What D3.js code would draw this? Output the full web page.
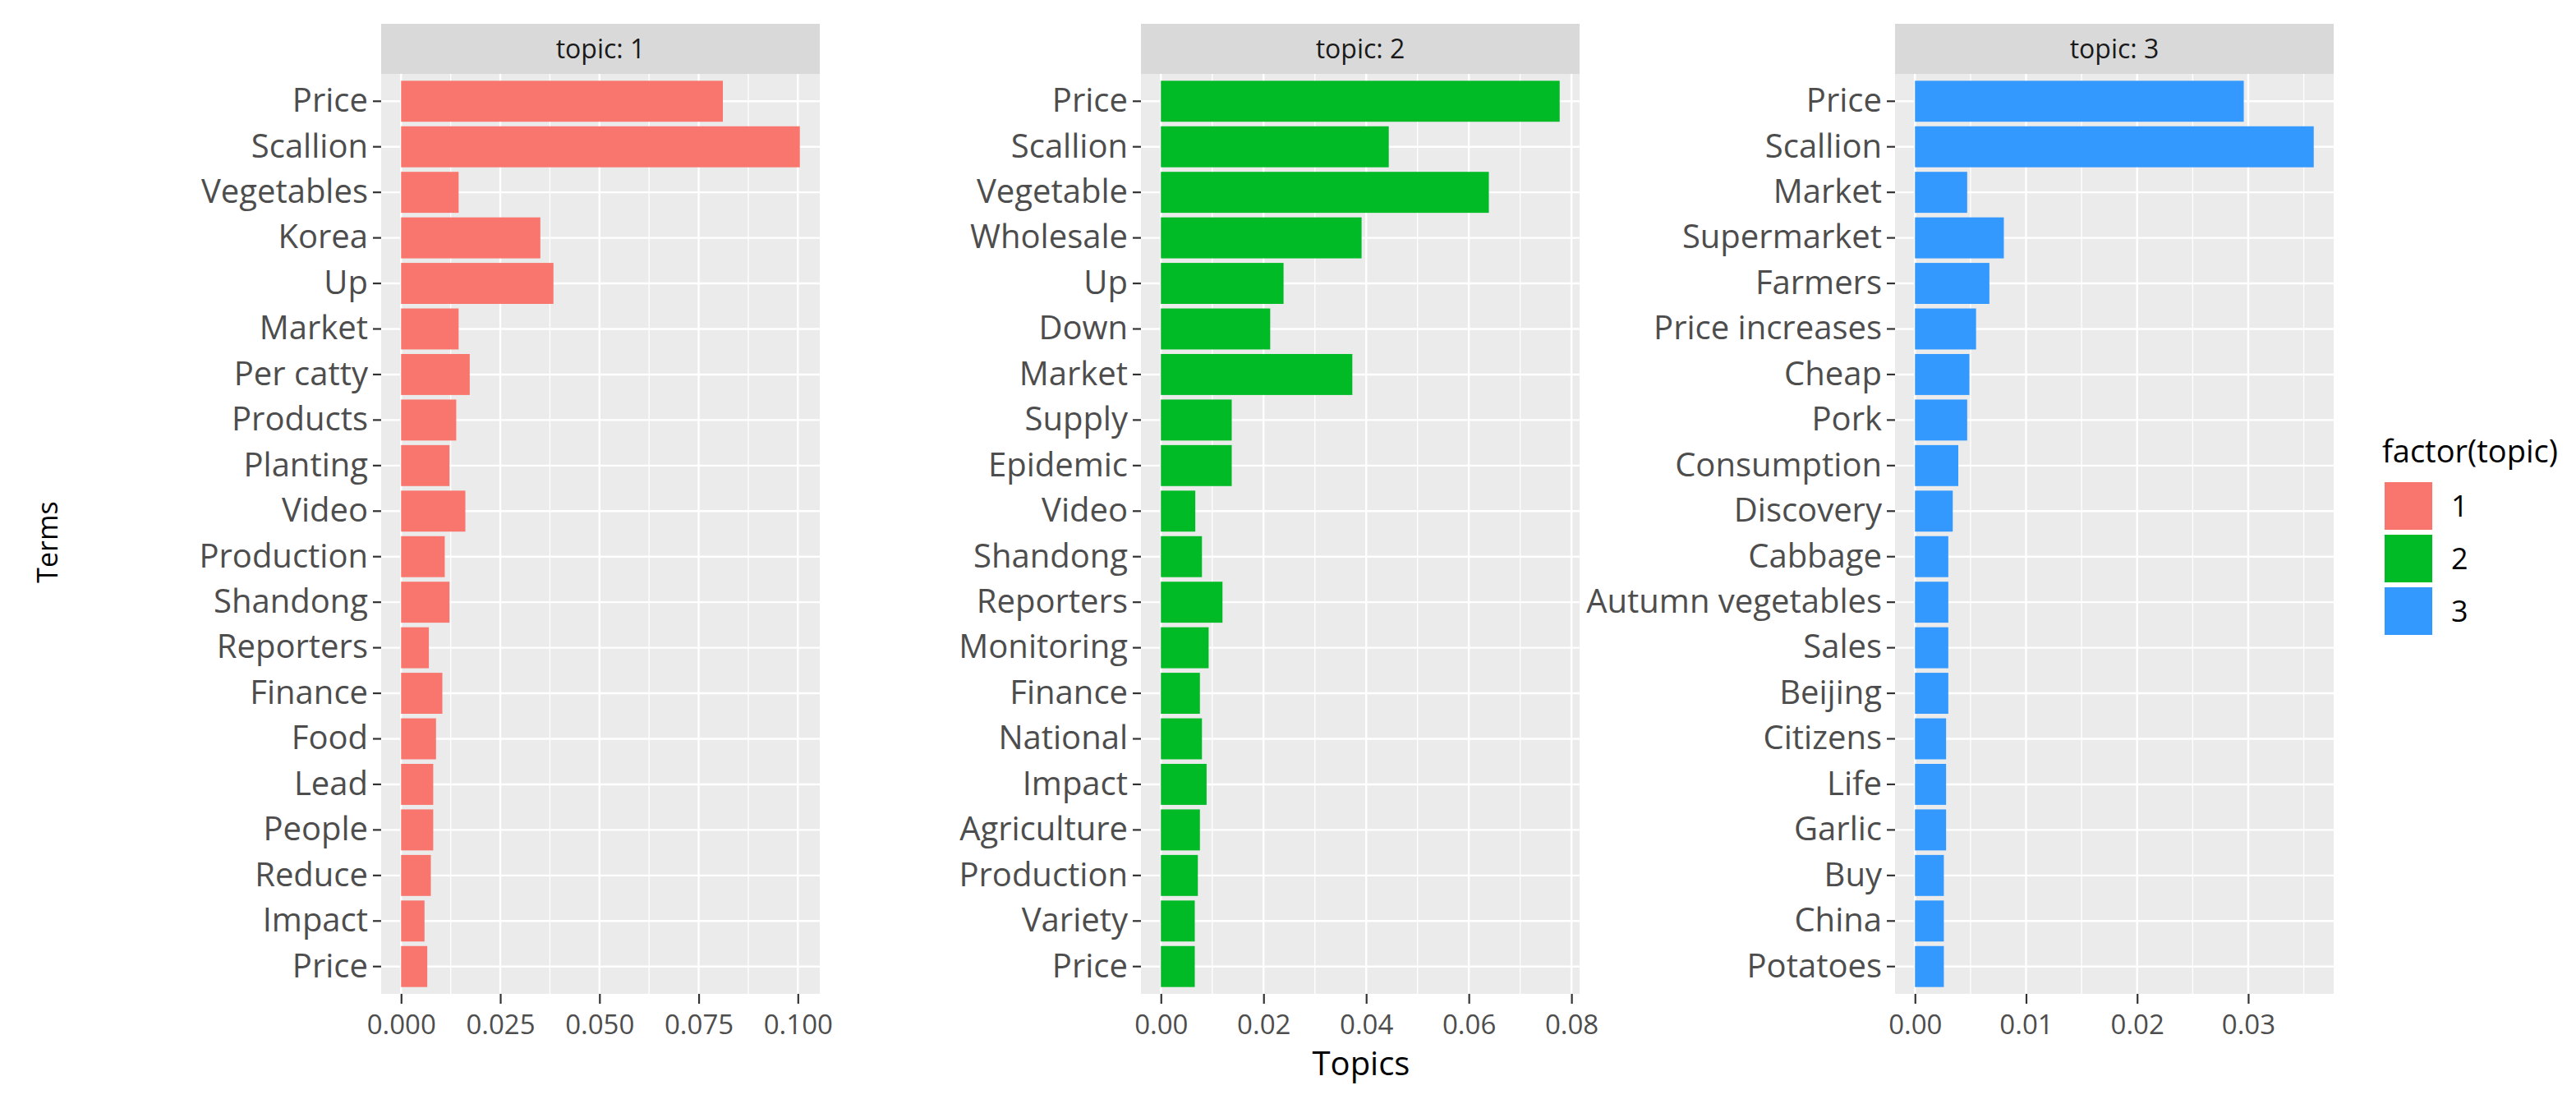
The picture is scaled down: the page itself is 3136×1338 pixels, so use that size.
<!DOCTYPE html>
<html>
<head>
<meta charset="utf-8">
<script src="https://cdn.jsdelivr.net/npm/d3@7"></script>
<style>
  body { margin: 0; background: #fff; }
  #chart text { font-family: "Open Sans", sans-serif; }
</style>
</head>
<body>
<div id="chart"></div>
<script>

var topics = ['1', '2', '3'];
var topicColors = ['#F8766D', '#00BA26', '#3399FF'];

var terms1  = ['Price', 'Scallion', 'Vegetables', 'Korea', 'Up', 'Market', 'Per catty', 'Products', 'Planting', 'Video',
               'Production', 'Shandong', 'Reporters', 'Finance', 'Food', 'Lead', 'People', 'Reduce', 'Impact', 'Price'];
var values1 = [0.0811, 0.1005, 0.0145, 0.0351, 0.0384, 0.0145, 0.0173, 0.0139, 0.0122, 0.0162,
               0.0110, 0.0122, 0.0070, 0.0104, 0.0088, 0.0081, 0.0081, 0.0075, 0.0059, 0.0066];

var terms2  = ['Price', 'Scallion', 'Vegetable', 'Wholesale', 'Up', 'Down', 'Market', 'Supply', 'Epidemic', 'Video',
               'Shandong', 'Reporters', 'Monitoring', 'Finance', 'National', 'Impact', 'Agriculture', 'Production', 'Variety', 'Price'];
var values2 = [0.0777, 0.0444, 0.0639, 0.0391, 0.0239, 0.0213, 0.0373, 0.0138, 0.0138, 0.0067,
               0.0080, 0.0120, 0.0093, 0.0076, 0.0080, 0.0089, 0.0076, 0.0072, 0.0066, 0.0066];

var terms3  = ['Price', 'Scallion', 'Market', 'Supermarket', 'Farmers', 'Price increases', 'Cheap', 'Pork', 'Consumption', 'Discovery',
               'Cabbage', 'Autumn vegetables', 'Sales', 'Beijing', 'Citizens', 'Life', 'Garlic', 'Buy', 'China', 'Potatoes'];
var values3 = [0.0296, 0.0359, 0.0047, 0.0080, 0.0067, 0.0055, 0.0049, 0.0047, 0.0039, 0.0034,
               0.0030, 0.0030, 0.0030, 0.0030, 0.0028, 0.0028, 0.0028, 0.0026, 0.0026, 0.0026];

var xTicks1 = [0, 0.025, 0.05, 0.075, 0.1];
var xTicks2 = [0, 0.02, 0.04, 0.06, 0.08];
var xTicks3 = [0, 0.01, 0.02, 0.03];
var tickFormats = ['.3f', '.2f', '.2f'];

var FacetChart = function( _id ) {

  var that = this;

  that.id = _id;
  that.widthCont  = 3136;
  that.heightCont = 1338;

  that.panelTop    = 90;
  that.panelHeight = 1120;
  that.panelWidth  = 534;
  that.panelLefts  = [464, 1389, 2307];
  that.stripHeight = 61;

  that.init = function() {

    that.svg = d3.select('#'+that.id).append('svg')
      .attr('width', that.widthCont)
      .attr('height', that.heightCont);

    that.drawPanel(0, terms1, values1, xTicks1);
    that.drawPanel(1, terms2, values2, xTicks2);
    that.drawPanel(2, terms3, values3, xTicks3);

    that.drawTitles();
    that.drawLegend();

    return that;
  };

  that.drawPanel = function(k, terms, values, ticks) {

    var max = d3.max(values);

    var x = d3.scaleLinear()
      .domain([-0.05 * max, 1.05 * max])
      .range([0, that.panelWidth]);

    var y = d3.scaleBand()
      .domain(d3.range(terms.length))
      .range([0, that.panelHeight])
      .paddingInner(0.1)
      .paddingOuter(0.15);

    // minor breaks halfway between majors, like ggplot
    var step = ticks[1] - ticks[0];
    var minors = [ticks[0] - step / 2].concat(ticks.map(function(t) { return t + step / 2; }))
      .filter(function(m) { return m >= x.domain()[0] && m <= x.domain()[1]; });

    var g = that.svg.append('g')
      .attr('transform', 'translate(' + that.panelLefts[k] + ',' + that.panelTop + ')');

    g.append('rect')
      .attr('width', that.panelWidth)
      .attr('height', that.panelHeight)
      .attr('fill', '#EBEBEB');

    g.selectAll('.minor')
      .data(minors)
    .enter().append('line')
      .attr('class', 'minor')
      .attr('x1', function(d) { return x(d); })
      .attr('x2', function(d) { return x(d); })
      .attr('y2', that.panelHeight)
      .attr('stroke', '#fff')
      .attr('stroke-width', 1.3);

    g.selectAll('.vgrid')
      .data(ticks)
    .enter().append('line')
      .attr('class', 'vgrid')
      .attr('x1', function(d) { return x(d); })
      .attr('x2', function(d) { return x(d); })
      .attr('y2', that.panelHeight)
      .attr('stroke', '#fff')
      .attr('stroke-width', 2.4);

    g.selectAll('.hgrid')
      .data(y.domain())
    .enter().append('line')
      .attr('class', 'hgrid')
      .attr('x2', that.panelWidth)
      .attr('y1', function(d) { return y(d) + y.bandwidth() / 2; })
      .attr('y2', function(d) { return y(d) + y.bandwidth() / 2; })
      .attr('stroke', '#fff')
      .attr('stroke-width', 2.4);

    g.selectAll('.bar')
      .data(values)
    .enter().append('rect')
      .attr('class', 'bar')
      .attr('x', x(0))
      .attr('y', function(d, i) { return y(i); })
      .attr('width', function(d) { return x(d) - x(0); })
      .attr('height', y.bandwidth())
      .attr('fill', topicColors[k]);

    // strip
    g.append('rect')
      .attr('y', -that.stripHeight)
      .attr('width', that.panelWidth)
      .attr('height', that.stripHeight)
      .attr('fill', '#D9D9D9');

    g.append('text')
      .attr('x', that.panelWidth / 2)
      .attr('y', -that.stripHeight / 2)
      .attr('dy', '0.35em')
      .attr('text-anchor', 'middle')
      .attr('font-size', 32)
      .attr('fill', '#1A1A1A')
      .text('topic: ' + topics[k]);

    var yAxis = g.append('g')
      .call(d3.axisLeft(y)
        .tickFormat(function(i) { return terms[i]; })
        .tickSize(10)
        .tickPadding(6));

    var xAxis = g.append('g')
      .attr('transform', 'translate(0,' + that.panelHeight + ')')
      .call(d3.axisBottom(x)
        .tickValues(ticks)
        .tickFormat(d3.format(tickFormats[k]))
        .tickSize(12)
        .tickPadding(14));

    [yAxis, xAxis].forEach(function(a) {
      a.select('.domain').remove();
      a.selectAll('line').attr('stroke', '#333').attr('stroke-width', 2.2);
      a.selectAll('text').attr('fill', '#4D4D4D').attr('font-family', '"Open Sans", sans-serif');
    });

    yAxis.selectAll('text').attr('font-size', 40);
    xAxis.selectAll('text').attr('font-size', 33);
  };

  that.drawTitles = function() {

    that.svg.append('text')
      .attr('x', 1657)
      .attr('y', 1309)
      .attr('text-anchor', 'middle')
      .attr('font-size', 40)
      .attr('fill', '#000')
      .text('Topics');

    that.svg.append('text')
      .attr('transform', 'translate(70,660) rotate(-90)')
      .attr('text-anchor', 'middle')
      .attr('font-size', 34)
      .attr('fill', '#000')
      .text('Terms');
  };

  that.drawLegend = function() {

    var lg = that.svg.append('g')
      .attr('transform', 'translate(2900,563)');

    lg.append('text')
      .attr('font-size', 38)
      .attr('fill', '#000')
      .text('factor(topic)');

    lg.selectAll('.key')
      .data(topics)
    .enter().append('rect')
      .attr('class', 'key')
      .attr('x', 3)
      .attr('y', function(d, i) { return 24 + i * 64; })
      .attr('width', 58)
      .attr('height', 58)
      .attr('fill', function(d, i) { return topicColors[i]; });

    lg.selectAll('.key-label')
      .data(topics)
    .enter().append('text')
      .attr('class', 'key-label')
      .attr('x', 84)
      .attr('y', function(d, i) { return 53 + i * 64; })
      .attr('dy', '0.35em')
      .attr('font-size', 36)
      .attr('fill', '#000')
      .text(function(d) { return d; });
  };

  return that;
};

new FacetChart('chart').init();

</script>
</body>
</html>
